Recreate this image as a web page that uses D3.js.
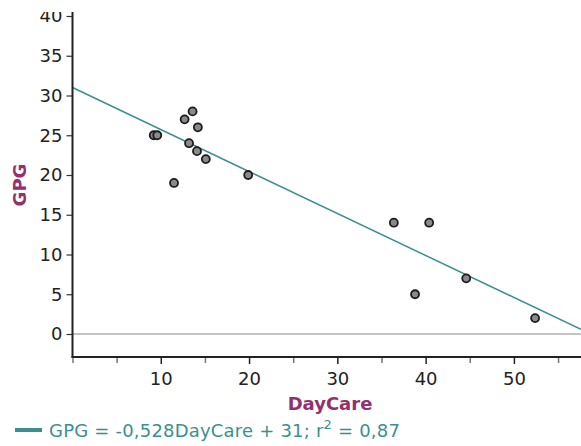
<!DOCTYPE html>
<html>
<head>
<meta charset="utf-8">
<script src="https://cdn.jsdelivr.net/npm/d3@7"></script>
<style>
  body { margin: 0; background: #fff; }
  svg { display: block; }
  text { font-family: "DejaVu Sans", Verdana, sans-serif; }
</style>
</head>
<body>
<div id="chart-area"></div>
<script>
// data
var dayCare = [9.2, 9.6, 13.6, 12.7, 14.2, 13.2, 14.1, 15.1, 19.9, 11.5, 36.4, 40.4, 44.6, 38.8, 52.4]
var gpg     = [25, 25, 28, 27, 26, 24, 23, 22, 20, 19, 14, 14, 7, 5, 2]
var yTicks = [0, 5, 10, 15, 20, 25, 30, 35, 40]
var xMajorTicks = [10, 20, 30, 40, 50]
var xMinorTicks = [0, 5, 15, 25, 35, 45, 55]
var slope = -0.528, intercept = 31
var legendText = "GPG = -0,528DayCare + 31; r"
var legendTail = " = 0,87"

var W = 581, H = 446
var purple = "#93306e", teal = "#3c8f8f"
var clipTop = 12

var svg = d3.select("#chart-area").append("svg")
    .attr("width", W)
    .attr("height", H)

svg.append("defs").append("clipPath")
    .attr("id", "top-clip")
  .append("rect")
    .attr("x", 0).attr("y", clipTop)
    .attr("width", W).attr("height", H - clipTop)

var g = svg.append("g").attr("clip-path", "url(#top-clip)")

var x = d3.scaleLinear()
  .domain([0, 57.6])
  .range([72.5, W])

var y = d3.scaleLinear()
  .domain([0, 40])
  .range([334, 16])

var axisY = 357

// zero line
g.append("line")
  .attr("x1", x(0)).attr("x2", W)
  .attr("y1", y(0)).attr("y2", y(0))
  .attr("stroke", "#b0b0b0")
  .attr("stroke-width", 1.5)

// trend line
var trend = [0, 57.6].map(function(d) { return [d, slope * d + intercept] })
g.append("line")
  .attr("x1", x(trend[0][0])).attr("y1", y(trend[0][1]))
  .attr("x2", x(trend[1][0])).attr("y2", y(trend[1][1]))
  .attr("stroke", teal)
  .attr("stroke-width", 1.5)

// y axis
var yAxisGroup = g.append("g")
  .attr("transform", "translate(" + x(0) + ",0)")
  .call(d3.axisLeft(y).tickValues(yTicks).tickSize(6).tickPadding(4))
yAxisGroup.select(".domain").remove()
yAxisGroup.selectAll("line").attr("stroke", "#333").attr("stroke-width", 1.2)
yAxisGroup.selectAll("text")
  .attr("font-size", "18px")
  .attr("fill", "#222")
  .style("font-family", "DejaVu Sans")

// x axis
var xAxisGroup = g.append("g")
  .attr("transform", "translate(0," + axisY + ")")
  .call(d3.axisBottom(x).tickValues(xMajorTicks).tickSize(7).tickPadding(8))
xAxisGroup.select(".domain").remove()
xAxisGroup.selectAll("line").attr("stroke", "#222").attr("stroke-width", 1.5)
xAxisGroup.selectAll("text")
  .attr("font-size", "18px")
  .attr("fill", "#222")
  .style("font-family", "DejaVu Sans")

var xMinor = g.append("g")
  .attr("transform", "translate(0," + axisY + ")")
  .call(d3.axisBottom(x).tickValues(xMinorTicks).tickSize(6).tickFormat(""))
xMinor.select(".domain").remove()
xMinor.selectAll("line").attr("stroke", "#777").attr("stroke-width", 1.5)

// axis lines
g.append("line")
  .attr("x1", x(0)).attr("x2", x(0))
  .attr("y1", clipTop).attr("y2", axisY + 1)
  .attr("stroke", "#222").attr("stroke-width", 2)
g.append("line")
  .attr("x1", x(0) - 1).attr("x2", W)
  .attr("y1", axisY).attr("y2", axisY)
  .attr("stroke", "#222").attr("stroke-width", 2)

// points
g.selectAll("circle")
  .data(dayCare)
  .enter().append("circle")
    .attr("cx", function(d) { return x(d) })
    .attr("cy", function(d, i) { return y(gpg[i]) })
    .attr("r", 4)
    .attr("fill", "#8a8a8a")
    .attr("stroke", "#1c1c1c")
    .attr("stroke-width", 1.8)

// axis labels
g.append("text")
  .attr("x", 330)
  .attr("y", 410)
  .attr("text-anchor", "middle")
  .attr("font-size", "18px")
  .attr("font-weight", "bold")
  .attr("fill", purple)
  .text("DayCare")

g.append("text")
  .attr("transform", "translate(26,185) rotate(-90)")
  .attr("text-anchor", "middle")
  .attr("font-size", "18px")
  .attr("font-weight", "bold")
  .attr("fill", purple)
  .text("GPG")

// legend
g.append("line")
  .attr("x1", 15).attr("x2", 42)
  .attr("y1", 430).attr("y2", 430)
  .attr("stroke", teal)
  .attr("stroke-width", 4)

var leg = g.append("text")
  .attr("x", 49)
  .attr("y", 437)
  .attr("font-size", "18px")
  .attr("letter-spacing", "0.2px")
  .attr("fill", teal)
leg.append("tspan").text(legendText)
leg.append("tspan").attr("dy", -8).attr("font-size", "13px").text("2")
leg.append("tspan").attr("dy", 8).text(legendTail)
</script>
</body>
</html>
